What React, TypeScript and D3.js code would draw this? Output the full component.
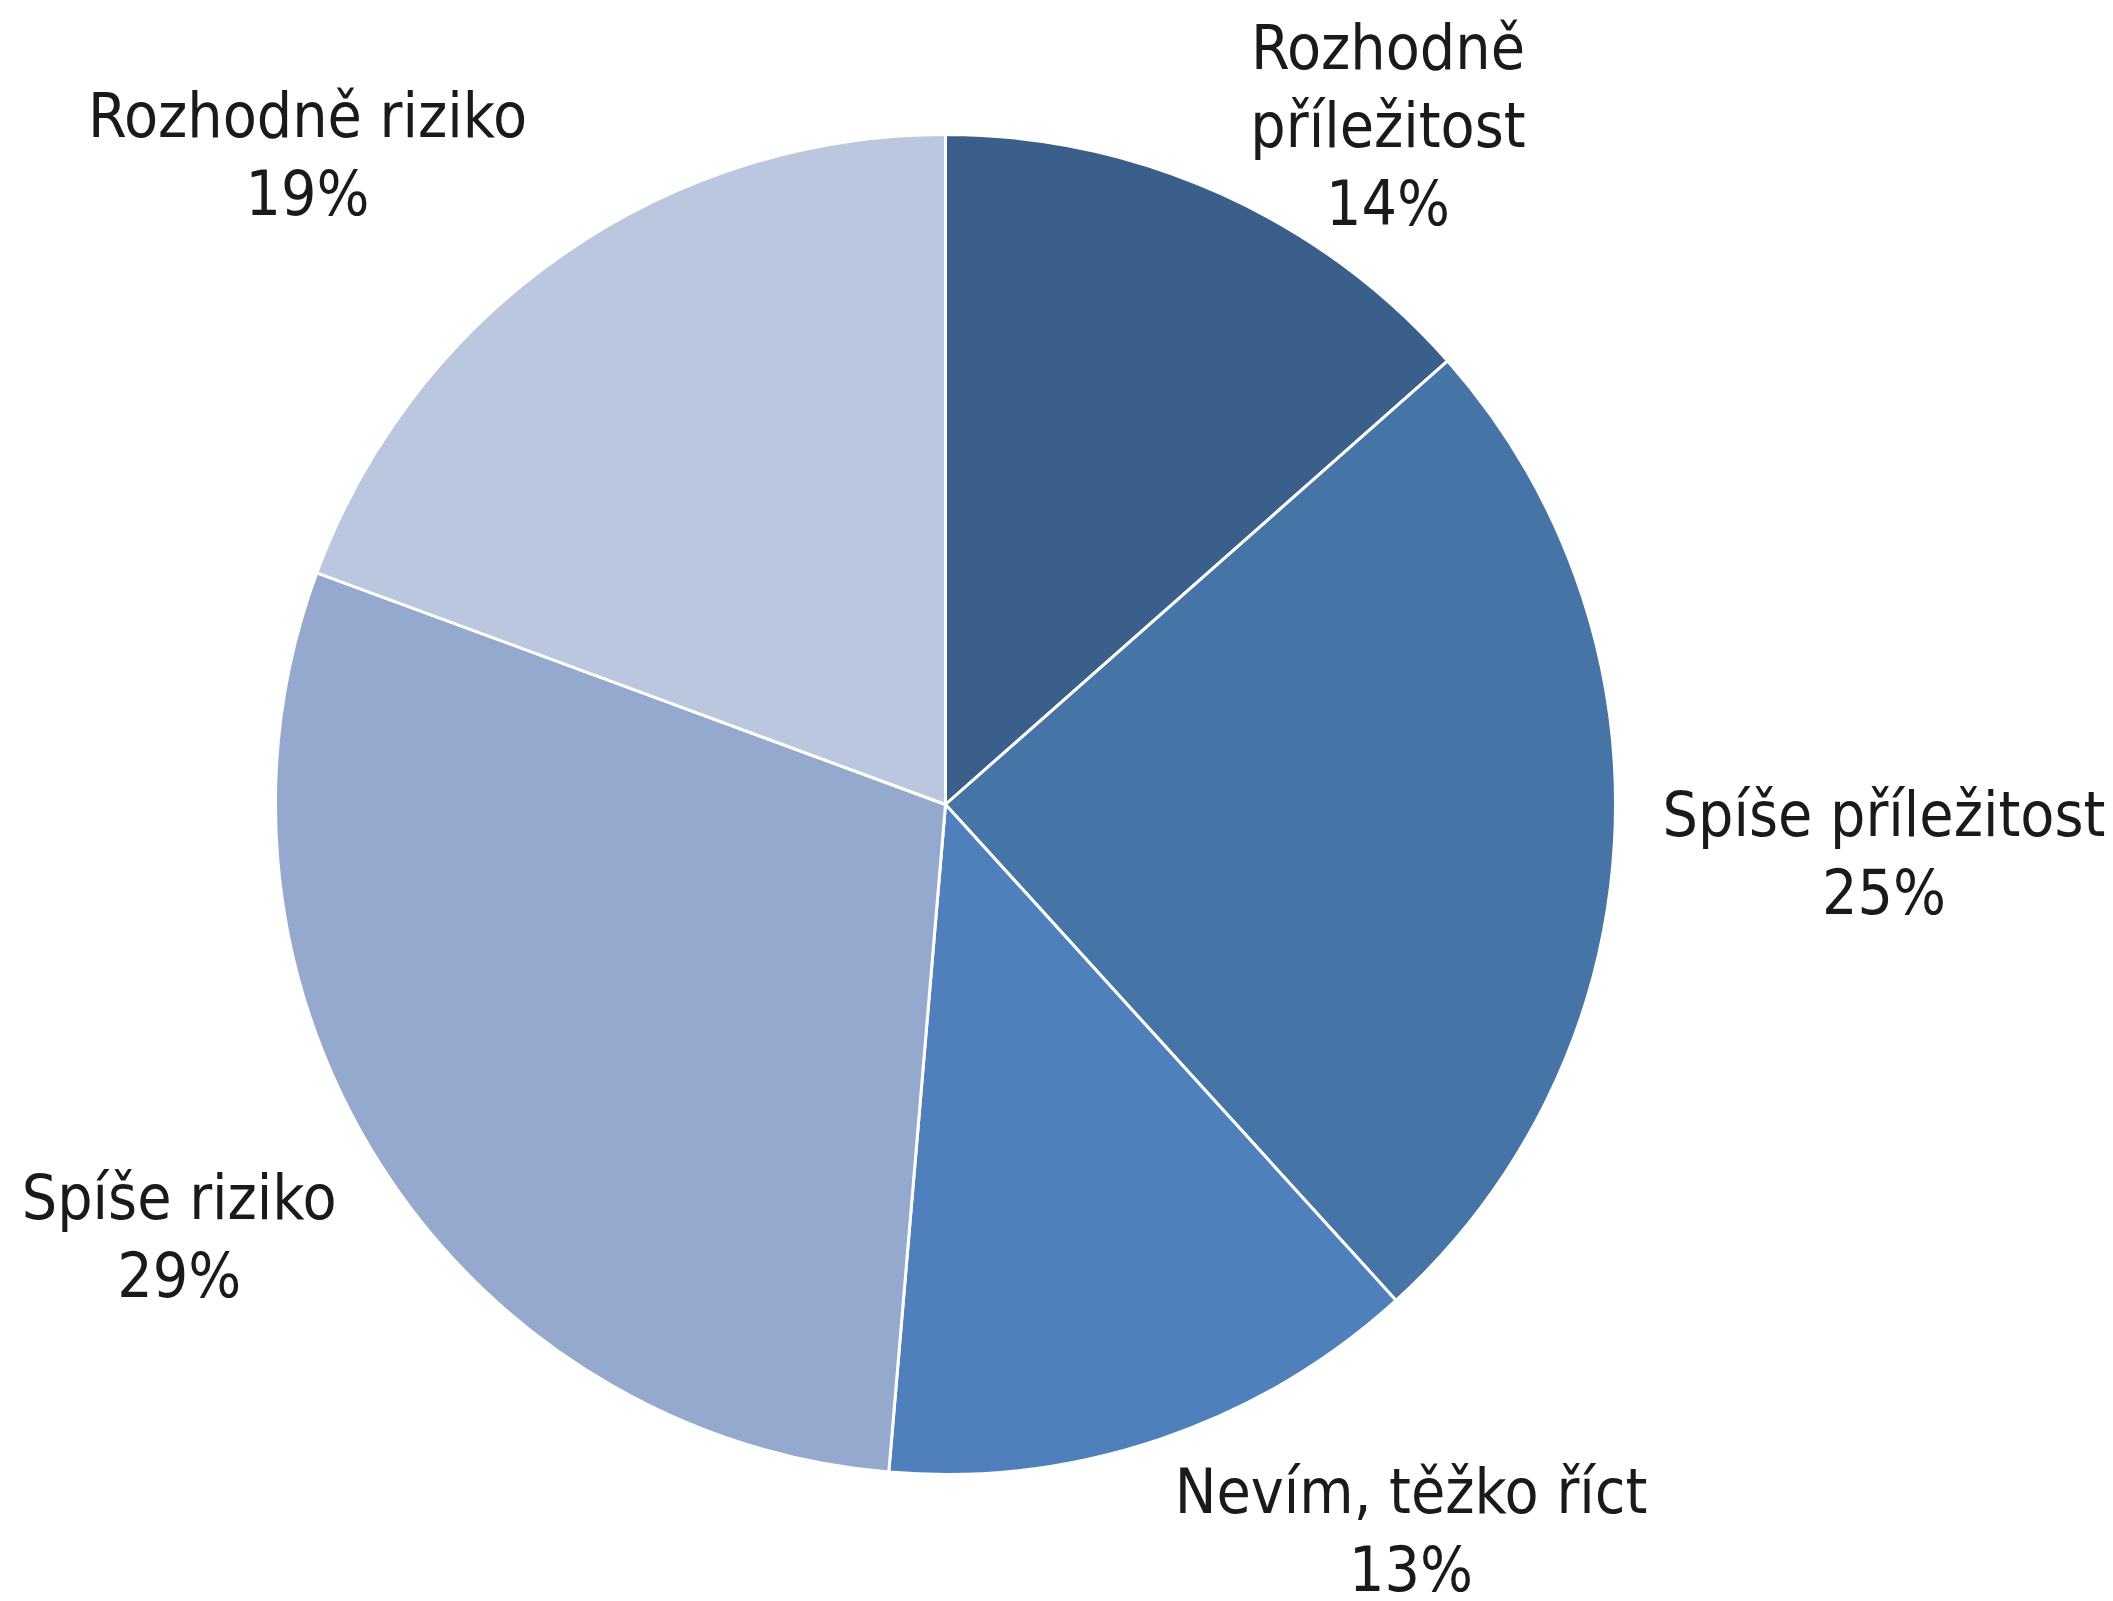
import React, { useEffect } from "react";
import * as d3 from "d3";

// ---- data ----
const categories = [
  "Rozhodně příležitost",
  "Spíše příležitost",
  "Nevím, těžko říct",
  "Spíše riziko",
  "Rozhodně riziko",
];
const values = [13.5, 24.8, 13.1, 29.3, 19.4];
const percentLabels = ["14%", "25%", "13%", "29%", "19%"];
const labelLines = [
  ["Rozhodně", "příležitost"],
  ["Spíše příležitost"],
  ["Nevím, těžko říct"],
  ["Spíše riziko"],
  ["Rozhodně riziko"],
];

// ---- layout / style ----
const WIDTH = 2113;
const HEIGHT = 1601;
const CX = 945.5;
const CY = 804.5;
const RADIUS = 670;
const COLORS = ["#3A5F8B", "#4674A7", "#4F80BC", "#95A9CF", "#BAC7DF"];
// label anchor in polar form: [angle in degrees clockwise from 12 o'clock, distance as multiple of radius]
const LABEL_POLAR: [number, number][] = [
  [33.95, 1.1826],
  [94.27, 1.4046],
  [148.1, 1.315],
  [239.39, 1.329],
  [314.58, 1.337],
];
const FONT = "'DejaVu Sans Condensed', 'DejaVu Sans', sans-serif";
const FONT_SIZE = 62;
const LINE_H = 78;

export default function App() {
  useEffect(() => {
    document.body.style.margin = "0";
  }, []);

  const pie = d3
    .pie<number>()
    .sort(null)
    .value((d) => d)
    .startAngle(0)
    .endAngle(2 * Math.PI);
  const arcs = pie(values);
  const arc = d3.arc<d3.PieArcDatum<number>>().innerRadius(0).outerRadius(RADIUS);

  return (
    <svg
      width={WIDTH}
      height={HEIGHT}
      style={{ position: "absolute", left: 0, top: 0, background: "#ffffff" }}
    >
      <g transform={`translate(${CX},${CY})`}>
        {arcs.map((a, i) => (
          <path
            key={categories[i]}
            d={arc(a) || ""}
            fill={COLORS[i]}
            stroke="#ffffff"
            strokeWidth={3}
            strokeLinejoin="round"
          />
        ))}
        {arcs.map((a, i) => {
          const [deg, k] = LABEL_POLAR[i];
          const ang = (deg * Math.PI) / 180;
          const x = Math.sin(ang) * RADIUS * k;
          const y = -Math.cos(ang) * RADIUS * k;
          const lines = [...labelLines[i], percentLabels[i]];
          const n = lines.length;
          return (
            <text
              key={"l" + i}
              x={x}
              y={y}
              textAnchor="middle"
              fontFamily={FONT}
              fontSize={FONT_SIZE}
              fill="#1a1a1a"
            >
              {lines.map((t, j) => (
                <tspan key={j} x={x} y={y + (j - (n - 1) / 2) * LINE_H}>
                  {t}
                </tspan>
              ))}
            </text>
          );
        })}
      </g>
    </svg>
  );
}
